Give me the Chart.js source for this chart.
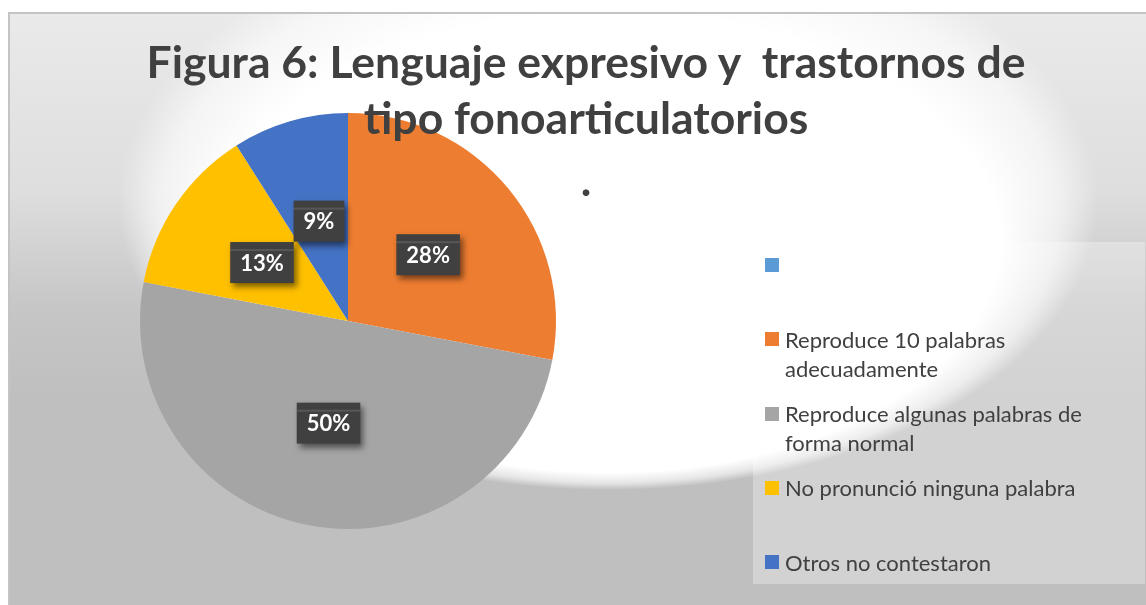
<!DOCTYPE html>
<html>
<head>
<meta charset="utf-8">
<script src="https://cdn.jsdelivr.net/npm/chart.js@4.4.1/dist/chart.umd.min.js"></script>
<style>
  html, body { margin: 0; padding: 0; background: #ffffff; }
  body { width: 1146px; height: 605px; position: relative; overflow: hidden; font-family: Lato, "Open Sans", sans-serif; }
  #wrap { position: absolute; left: 8px; top: 12px; width: 1138px; height: 593px; }
  #wrap canvas { position: absolute; left: 0; top: 0; }
  #title {
    position: absolute; left: 0; top: 33px; width: 1172px;
    text-align: center; color: #404040; font-weight: bold; font-size: 44.5px;
    line-height: 56px; white-space: pre; pointer-events: none;
  }
  #title .dot { line-height: 68px; }
  #legend {
    position: absolute; left: 753px; top: 242px; width: 392px; height: 342px;
    background: rgba(255, 255, 255, 0.3); box-sizing: border-box; padding-top: 8.5px;
  }
  .item { position: relative; height: 74.25px; font-size: 22px; line-height: 29px; color: #404040; }
  .item .sw { position: absolute; left: 12px; top: 7.5px; width: 14px; height: 14px; }
  .item .tx { position: absolute; left: 32px; top: 0; width: 335px; }
</style>
</head>
<body>
<div id="wrap"><canvas id="pieChart" width="1138" height="593"></canvas></div>
<div id="title"></div>
<div id="legend"></div>
<script>
const categories = [
    '',
    'Reproduce 10 palabras adecuadamente',
    'Reproduce algunas palabras de forma normal',
    'No pronunció ninguna palabra',
    'Otros no contestaron',
];
const values = [0, 28, 50, 13, 9];
const colors = ['#5B9BD5', '#ED7D31', '#A5A5A5', '#FFC000', '#4472C4'];
const titleLines = ['Figura 6: Lenguaje expresivo y  trastornos de', 'tipo fonoarticulatorios', '.'];

// title (html, sits over the pie like the original)
const titleEl = document.getElementById('title');
titleLines.forEach((t, i) => {
    const d = document.createElement('div');
    d.textContent = t;
    if (i === 2) d.className = 'dot';
    titleEl.appendChild(d);
});

// legend
const legendEl = document.getElementById('legend');
categories.forEach((c, i) => {
    const it = document.createElement('div');
    it.className = 'item';
    const sw = document.createElement('span');
    sw.className = 'sw';
    sw.style.background = colors[i];
    const tx = document.createElement('span');
    tx.className = 'tx';
    tx.textContent = c;
    it.appendChild(sw);
    it.appendChild(tx);
    legendEl.appendChild(it);
});

const bgPlugin = {
    id: 'bg',
    beforeDraw(chart) {
        const ctx = chart.ctx;
        const w = chart.width, h = chart.height;
        ctx.save();
        const lin = ctx.createLinearGradient(0, 0, 0, h);
        lin.addColorStop(0, '#eaeaea');
        lin.addColorStop(0.3, '#dedede');
        lin.addColorStop(0.5, '#c6c6c6');
        lin.addColorStop(0.65, '#bfbfbf');
        lin.addColorStop(1, '#bfbfbf');
        ctx.fillStyle = lin;
        ctx.fillRect(0, 0, w, h);
        // white glow, focal point pushed down so the lower rim is sharp
        const cx = 600, cy = 190, rx = 490, ry = 288;
        ctx.translate(cx, cy);
        ctx.scale(1, ry / rx);
        const rad = ctx.createRadialGradient(0, rx * 0.7, 0, 0, 0, rx);
        rad.addColorStop(0, 'rgba(255,255,255,1)');
        rad.addColorStop(0.8, 'rgba(255,255,255,1)');
        rad.addColorStop(0.92, 'rgba(255,255,255,0.6)');
        rad.addColorStop(1, 'rgba(255,255,255,0)');
        ctx.fillStyle = rad;
        ctx.beginPath();
        ctx.arc(0, 0, rx, 0, Math.PI * 2);
        ctx.fill();
        ctx.restore();
        // outer border top/left
        ctx.save();
        ctx.strokeStyle = '#c4c4c4';
        ctx.lineWidth = 2;
        ctx.beginPath();
        ctx.moveTo(1, h);
        ctx.lineTo(1, 1);
        ctx.lineTo(w, 1);
        ctx.stroke();
        ctx.restore();
    }
};

const labelPlugin = {
    id: 'pctLabels',
    afterDatasetsDraw(chart) {
        const ctx = chart.ctx;
        const meta = chart.getDatasetMeta(0);
        const data = chart.data.datasets[0].data;
        const total = data.reduce((a, b) => a + b, 0);
        ctx.save();
        ctx.font = 'bold 22px Lato, "Open Sans", sans-serif';
        ctx.textAlign = 'center';
        ctx.textBaseline = 'middle';
        meta.data.forEach((arc, i) => {
            if (!data[i]) return;
            const p = arc.getCenterPoint();
            const txt = Math.round(data[i] / total * 100) + '%';
            const tw = ctx.measureText(txt).width;
            const bw = tw + 20, bh = 41;
            const x = p.x - bw / 2, y = p.y - bh / 2;
            ctx.save();
            ctx.shadowColor = 'rgba(0,0,0,0.5)';
            ctx.shadowBlur = 6;
            ctx.shadowOffsetX = 3;
            ctx.shadowOffsetY = 4;
            ctx.fillStyle = '#404040';
            ctx.fillRect(x, y, bw, bh);
            ctx.restore();
            ctx.fillStyle = 'rgba(255,255,255,0.12)';
            ctx.fillRect(x, y + 7, bw, 2);
            ctx.fillStyle = '#ffffff';
            ctx.fillText(txt, p.x, p.y + 1);
        });
        ctx.restore();
    }
};

const config = {
    type: 'pie',
    data: {
        labels: categories,
        datasets: [{
            data: values,
            backgroundColor: colors,
            borderWidth: 0,
        }]
    },
    options: {
        responsive: false,
        animation: false,
        layout: {
            padding: { left: 132, top: 101, right: 590, bottom: 76 }
        },
        plugins: {
            legend: { display: false },
            title: { display: false },
            tooltip: { enabled: false },
        },
    },
    plugins: [bgPlugin, labelPlugin]
};

const pieChart = new Chart(
    document.getElementById('pieChart'),
    config
);
</script>
</body>
</html>
